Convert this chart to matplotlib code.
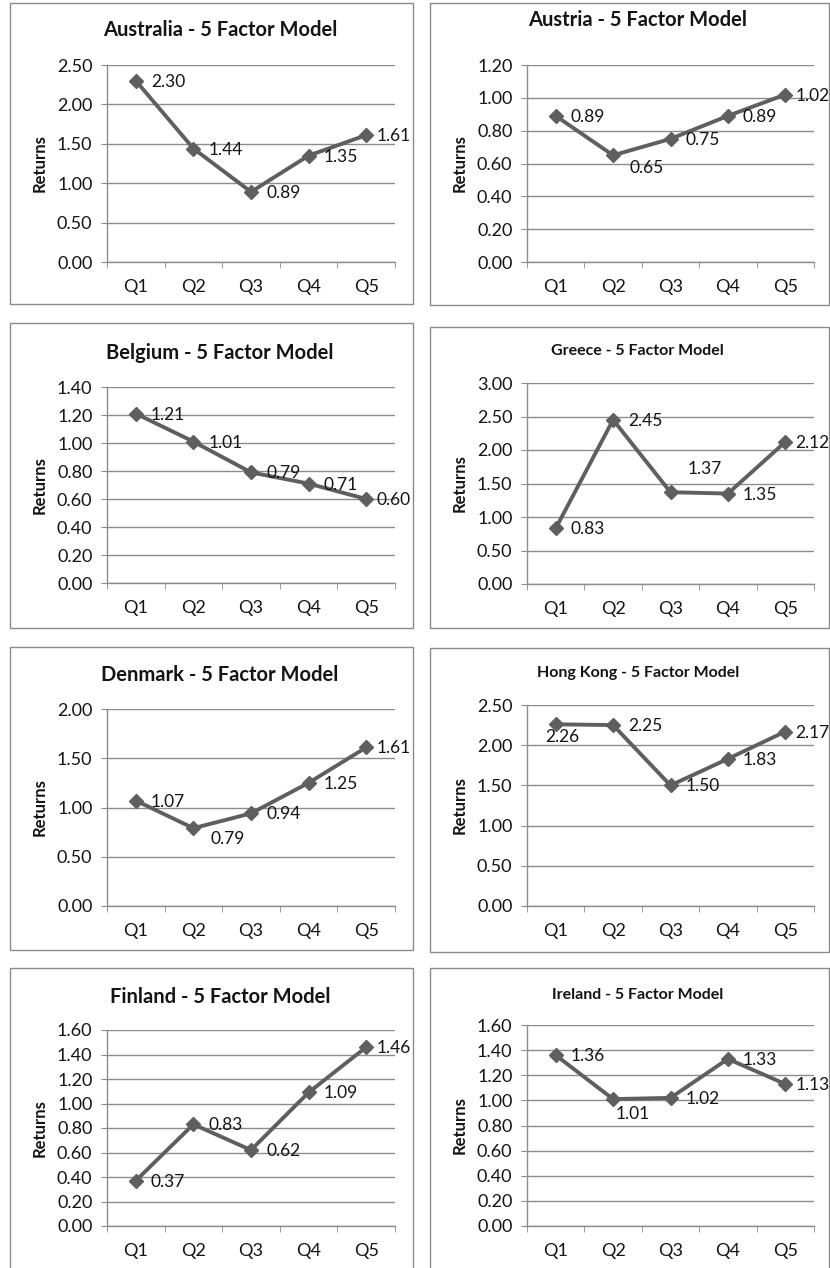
import matplotlib.pyplot as plt
from matplotlib.patches import Rectangle
import numpy as np

plt.rcParams['font.family'] = ['Lato', 'DejaVu Sans']

quintiles = ['Q1', 'Q2', 'Q3', 'Q4', 'Q5']

australia = [2.30, 1.44, 0.89, 1.35, 1.61]
austria = [0.89, 0.65, 0.75, 0.89, 1.02]
belgium = [1.21, 1.01, 0.79, 0.71, 0.60]
greece = [0.83, 2.45, 1.37, 1.35, 2.12]
denmark = [1.07, 0.79, 0.94, 1.25, 1.61]
hong_kong = [2.26, 2.25, 1.50, 1.83, 2.17]
finland = [0.37, 0.83, 0.62, 1.09, 1.46]
ireland = [1.36, 1.01, 1.02, 1.33, 1.13]

# name, values, y max, y step, panel box (px), plot box (px), title y, title size, label tweaks
panels = [
    ('Australia', australia, 2.5, 0.5, (10, 3, 413, 304), (107, 65, 395, 262), 30, 14.5, {}),
    ('Austria', austria, 1.2, 0.2, (430, 3, 829, 305), (527, 65, 814, 262), 20, 14.5, {1: (16, -13)}),
    ('Belgium', belgium, 1.4, 0.2, (10, 323, 413, 628), (107, 387, 395, 583), 353, 14.5, {}),
    ('Greece', greece, 3.0, 0.5, (430, 327, 829, 628), (527, 383, 814, 584), 351, 11.5, {2: (17, 23)}),
    ('Denmark', denmark, 2.0, 0.5, (10, 647, 413, 950), (107, 709, 395, 906), 675, 14.5, {1: (17, -11)}),
    ('Hong Kong', hong_kong, 2.5, 0.5, (430, 648, 829, 952), (527, 705, 814, 906), 673, 11.5, {0: (-10, -13)}),
    ('Finland', finland, 1.6, 0.2, (10, 968, 413, 1285), (107, 1030, 395, 1226), 997, 14.5, {}),
    ('Ireland', ireland, 1.6, 0.2, (430, 968, 829, 1285), (527, 1025, 814, 1226), 995, 11.5, {1: (3, -15)}),
]

W, H = 830, 1268
fig = plt.figure(figsize=(W / 100, H / 100), dpi=100)

line_col = '#5f5f5f'
grid_col = '#8c8c8c'
text_col = '#141414'

for name, vals, ymax, ystep, box, plot, ty, tsize, tweaks in panels:
    bx0, by0, bx1, by1 = box
    fig.patches.append(Rectangle((bx0 / W, 1 - by1 / H), (bx1 - bx0) / W, (by1 - by0) / H,
                                 transform=fig.transFigure, fill=False,
                                 edgecolor='#8a8a8a', linewidth=1.0))
    x0, y0, x1, y1 = plot
    ax = fig.add_axes([x0 / W, 1 - y1 / H, (x1 - x0) / W, (y1 - y0) / H])
    x = np.arange(len(quintiles))
    ax.plot(x, vals, color=line_col, linewidth=2.8, marker='D', markersize=7,
            markerfacecolor=line_col, markeredgecolor=line_col, zorder=3)
    for i, v in enumerate(vals):
        default = (15, -1) if i < len(vals) - 1 else (10, -1)
        dx, dy = tweaks.get(i, default)
        ax.annotate(f'{v:.2f}', (x[i], v), xytext=(dx, dy), textcoords='offset pixels',
                    ha='left', va='center', fontsize=12.5, color=text_col, zorder=4,
                    annotation_clip=False)

    yt = np.arange(0, ymax + ystep / 2, ystep)
    ax.set_xlim(-0.5, len(quintiles) - 0.5)
    ax.set_ylim(0, ymax)
    ax.set_yticks(yt)
    ax.set_yticklabels([f'{t:.2f}' for t in yt])
    ax.set_xticks(x)
    ax.set_xticklabels(quintiles)
    ax.set_xticks(np.arange(-0.5, len(quintiles)), minor=True)
    ax.tick_params(axis='x', which='major', length=0, pad=12, labelsize=13, colors=text_col)
    ax.tick_params(axis='x', which='minor', length=4.5, color=grid_col, direction='out')
    ax.tick_params(axis='y', length=4.5, color=grid_col, pad=6, labelsize=13, labelcolor=text_col)
    ax.yaxis.grid(True, color=grid_col, linewidth=1.0)
    ax.set_axisbelow(True)
    for s in ('top', 'right'):
        ax.spines[s].set_visible(False)
    for s in ('left', 'bottom'):
        ax.spines[s].set_color(grid_col)
        ax.spines[s].set_linewidth(1.0)
    ax.set_ylabel('Returns', fontsize=12, fontweight='bold', labelpad=7, color=text_col)

    fig.text((bx0 + bx1) / 2 / W + 0.01, 1 - ty / H, f'{name} - 5 Factor Model',
             ha='center', va='center', fontsize=tsize, fontweight='bold', color=text_col)

fig.savefig('out.png', dpi=100, facecolor='white')
